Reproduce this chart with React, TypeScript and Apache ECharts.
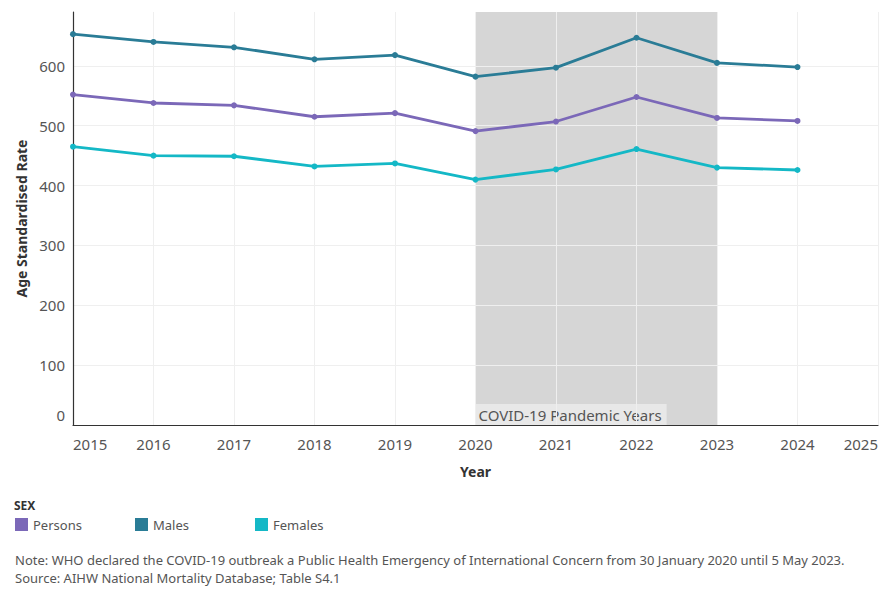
import React, { useEffect, useRef } from "react";
import * as echarts from "echarts";

const years = [2015, 2016, 2017, 2018, 2019, 2020, 2021, 2022, 2023, 2024];
const persons = [552, 538, 534, 515, 521, 491, 507, 548, 513, 508];
const males = [653, 640, 631, 611, 618, 582, 597, 647, 605, 598];
const females = [465, 450, 449, 432, 437, 410, 427, 461, 430, 426];
const seriesNames = ["Persons", "Males", "Females"];
const seriesColors = ["#7b68b8", "#2a7c96", "#14b8c6"];
const pandemicStart = 2020;
const pandemicEnd = 2023;
const pandemicLabel = "COVID-19 Pandemic Years";
const noteLines = [
  "Note: WHO declared the COVID-19 outbreak a Public Health Emergency of International Concern from 30 January 2020 until 5 May 2023.",
  "Source: AIHW National Mortality Database; Table S4.1",
];

const FONT = "'Noto Sans', 'Open Sans', sans-serif";

export default function App() {
  const ref = useRef<HTMLDivElement>(null);
  useEffect(() => {
    if (!ref.current) return;
    const chart = echarts.init(ref.current, undefined, { renderer: "svg" });
    const values = [persons, males, females];
    const lineSeries = seriesNames.map((name, i) => ({
      name,
      type: "line",
      z: 3,
      data: years.map((y, j) => [y, values[i][j]]),
      symbol: "circle",
      symbolSize: 6,
      lineStyle: { width: 2.8, color: seriesColors[i] },
      itemStyle: { color: seriesColors[i] },
    }));
    const legends = seriesNames.map((name, i) => ({
      left: 10 + i * 120,
      top: 513,
      itemWidth: 13,
      itemHeight: 13,
      icon: "rect",
      data: [name],
      textStyle: { fontFamily: FONT, fontSize: 13, color: "#555" },
    }));
    chart.setOption({
      animation: false,
      textStyle: { fontFamily: FONT },
      grid: { left: 73, right: 12, top: 12, bottom: 175, containLabel: false },
      xAxis: {
        type: "value",
        min: 2015,
        max: 2025,
        interval: 1,
        z: 1,
        name: "Year",
        nameLocation: "middle",
        nameGap: 39,
        nameTextStyle: { fontFamily: FONT, fontSize: 14, fontWeight: "bold", color: "#333" },
        axisLine: { show: true, lineStyle: { color: "#333", width: 1.2 } },
        axisTick: { show: false },
        axisLabel: {
          formatter: (v: number) => String(v),
          fontFamily: FONT,
          fontSize: 15,
          color: "#555",
          margin: 11,
          alignMinLabel: "left",
          alignMaxLabel: "right",
        },
        splitLine: { show: true, lineStyle: { color: "#efefef", width: 1 } },
      },
      yAxis: {
        type: "value",
        min: 0,
        max: 690,
        interval: 100,
        z: 1,
        name: "Age Standardised Rate",
        nameLocation: "middle",
        nameGap: 42,
        nameTextStyle: { fontFamily: FONT, fontSize: 14, fontWeight: "bold", color: "#333" },
        axisLine: { show: true, lineStyle: { color: "#333", width: 1.2 } },
        axisTick: { show: false },
        axisLabel: {
          fontFamily: FONT,
          fontSize: 15,
          color: "#555",
          margin: 8,
          showMaxLabel: false,
          formatter: (v: number) => (v === 0 ? "{z|0}" : String(v)),
          rich: { z: { fontFamily: FONT, fontSize: 15, color: "#555", padding: [0, 0, 20, 0] } },
        },
        splitLine: { show: true, showMaxLine: false, lineStyle: { color: "#efefef", width: 1 } },
      },
      legend: legends,
      graphic: [
        {
          type: "text",
          left: 14,
          top: 499,
          style: { text: "SEX", fontFamily: FONT, fontSize: 12, fontWeight: "bold", fill: "#333" },
        },
        {
          type: "text",
          left: 15,
          top: 551,
          style: {
            text: noteLines.join("\n"),
            fontFamily: FONT,
            fontSize: 13,
            lineHeight: 18,
            fill: "#555",
          },
        },
      ],
      series: [
        {
          name: "band",
          type: "line",
          z: 0,
          data: [],
          silent: true,
          markArea: {
            z: 0,
            silent: true,
            itemStyle: { color: "#d6d6d6" },
            label: {
              show: true,
              position: "insideBottomLeft",
              distance: 0,
              offset: [0, 0],
              fontFamily: FONT,
              fontSize: 15,
              color: "#555",
              backgroundColor: "#e8e8e8",
              padding: [3, 5, 3, 3],
            },
            data: [[{ xAxis: pandemicStart, name: pandemicLabel }, { xAxis: pandemicEnd }]],
          },
        },
        ...lineSeries,
      ],
    });
    return () => chart.dispose();
  }, []);
  return <div ref={ref} style={{ width: 890, height: 600, margin: -8 }} />;
}
